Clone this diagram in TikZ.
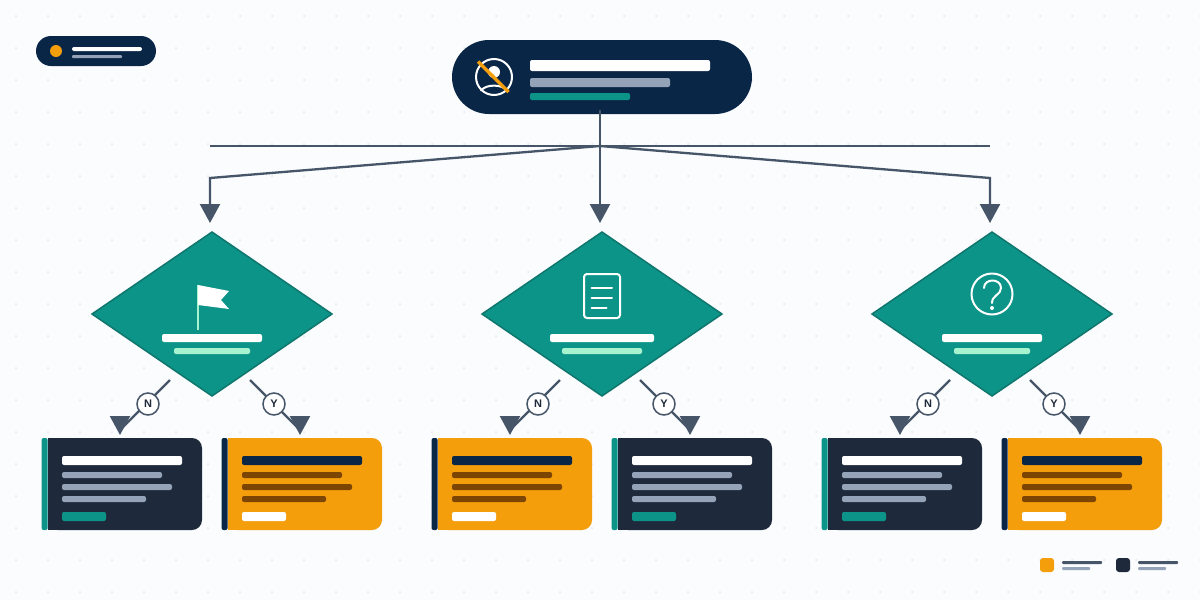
\documentclass[tikz,border=0pt]{standalone}
\usepackage{fontspec}
\setmainfont{Liberation Sans}
\usetikzlibrary{arrows.meta,shapes.geometric}
\definecolor{paper}{HTML}{FAFCFE}
\definecolor{speck}{HTML}{E2E8F0}
\definecolor{navy}{HTML}{0A2647}
\definecolor{slate}{HTML}{1E293B}
\definecolor{steel}{HTML}{475569}
\definecolor{mist}{HTML}{94A3B8}
\definecolor{teal}{HTML}{0D9488}
\definecolor{tealdark}{HTML}{0F766E}
\definecolor{mint}{HTML}{A7F3D0}
\definecolor{amber}{HTML}{F59E0B}
\definecolor{umber}{HTML}{7C4503}
\tikzset{
    bar/.style = {rectangle, rounded corners=2pt, inner sep=0pt, outer sep=0pt, anchor=west, minimum height=6pt},
    titlebar/.style = {bar, minimum width=120pt, minimum height=9pt},
    notebar/.style = {bar, minimum width=44pt, minimum height=9pt},
    pillbox/.style = {rectangle, rounded corners=37pt, inner sep=0pt, fill=navy, minimum width=300pt, minimum height=74pt},
    tagbox/.style = {rectangle, rounded corners=15pt, inner sep=0pt, fill=navy, minimum width=120pt, minimum height=30pt},
    choice/.style = {diamond, draw=tealdark, line width=1.5pt, fill=teal, inner sep=0pt, outer sep=0pt, minimum width=240pt, minimum height=164pt},
    cardbody/.style = {rectangle, rounded corners=10pt, inner sep=0pt, minimum width=154pt, minimum height=92pt},
    cardfill/.style = {rectangle, inner sep=0pt, minimum width=20pt, minimum height=92pt, anchor=west},
    accent/.style = {rectangle, rounded corners=2pt, inner sep=0pt, minimum width=6pt, minimum height=92pt, anchor=east},
    swatch/.style = {rectangle, rounded corners=3pt, inner sep=0pt, minimum width=14pt, minimum height=14pt},
    badge/.style = {circle, draw=steel, line width=1.5pt, fill=white, text=slate, inner sep=0pt, minimum size=22pt, font=\fontsize{11}{11}\selectfont\bfseries},
    link/.style = {draw=steel, line width=2.3pt},
    arrow/.style = {link, -{Triangle[length=19pt,width=20pt]}},
    icon/.style = {draw=white, line width=2pt, line cap=round, line join=round}
}
\begin{document}
\begin{tikzpicture}[x=1pt,y=-1pt,node distance=180pt]
\useasboundingbox (0,0) rectangle (1200,600);
\fill [paper] (0,0) rectangle (1200,600);
% faint dots
\foreach \i in {0,...,37} {
    \foreach \j in {0,...,18} {
        \fill [speck] (16+32*\i,16+32*\j) circle (1pt);
    }
}

% tag and root
\node (tag) [tagbox] at (96,51) {};
\node (tagdot) [circle, fill=amber, inner sep=0pt, minimum size=12pt] at (56,51) {};
\node (tagline) [bar, fill=white, minimum width=70pt, minimum height=4pt] at (72,49) {};
\node (tagsub) [bar, fill=mist, minimum width=50pt, minimum height=3pt, rounded corners=1pt] at (72,56.5) {};

\node (root) [pillbox] at (602,77) {};
\node (roottitle) [bar, fill=white, minimum width=180pt, minimum height=11pt] at (530,65.5) {};
\node (rootsub) [bar, fill=mist, minimum width=140pt, minimum height=9pt] at (530,82.5) {};
\node (rootnote) [bar, fill=teal, minimum width=100pt, minimum height=7pt] at (530,96.5) {};
\draw [icon] (494,77) circle (18pt);
\fill [white] (494,72) circle (6pt);
\draw [icon] (481,90.5) .. controls (486,84) and (502,84) .. (507,90.5);
\draw [draw=amber, line width=3.5pt] (478,61.5) -- (508.5,92);

% decisions
\node (flag) [choice] at (212,314) {};
\node (doc) [choice, right of=flag, node distance=390pt] {};
\node (query) [choice, right of=doc, node distance=390pt] {};

\draw [draw=mint, line width=2pt] (198,285) -- (198,330);
\fill [white] (198,285) -- (229,291) -- (221,300) -- (229,309) -- (198,305) -- cycle;
\node (flagtitle) [bar, fill=white, minimum width=100pt, minimum height=8pt] at (162,338) {};
\node (flagsub) [bar, fill=mint, minimum width=76pt] at (174,351) {};

\draw [icon, rounded corners=3pt] (584,274) rectangle (620,318);
\draw [icon] (591.5,288) -- (612,288);
\draw [icon] (591.5,298) -- (612,298);
\draw [icon] (591.5,308) -- (606.5,308);
\node (doctitle) [bar, fill=white, minimum width=104pt, minimum height=8pt] at (550,338) {};
\node (docsub) [bar, fill=mint, minimum width=80pt] at (562,351) {};

\draw [icon] (992,294) circle (20.5pt);
\draw [icon] (984,288) .. controls (984,278) and (1001,278) .. (1001,288) .. controls (1001,295) and (992,295) .. (992,303);
\fill [white] (992,308) circle (2pt);
\node (querytitle) [bar, fill=white, minimum width=100pt, minimum height=8pt] at (942,338) {};
\node (querysub) [bar, fill=mint, minimum width=76pt] at (954,351) {};

% cards
\node (cardA) [cardbody, fill=slate] at (125,484) {};
\node (cardAfill) [cardfill, fill=slate] at (cardA.west) {};
\node (cardAedge) [accent, fill=teal] at (cardA.west) {};
\node (cardAtitle) [titlebar, fill=white] at (62,460.5) {};
\node (cardAone) [bar, fill=mist, minimum width=100pt] at (62,475) {};
\node (cardAtwo) [bar, fill=mist, minimum width=110pt] at (62,487) {};
\node (cardAthree) [bar, fill=mist, minimum width=84pt] at (62,499) {};
\node (cardAnote) [notebar, fill=teal] at (62,516.5) {};

\node (cardB) [cardbody, fill=amber, right of=cardA] {};
\node (cardBfill) [cardfill, fill=amber] at (cardB.west) {};
\node (cardBedge) [accent, fill=navy] at (cardB.west) {};
\node (cardBtitle) [titlebar, fill=navy] at (242,460.5) {};
\node (cardBone) [bar, fill=umber, minimum width=100pt] at (242,475) {};
\node (cardBtwo) [bar, fill=umber, minimum width=110pt] at (242,487) {};
\node (cardBthree) [bar, fill=umber, minimum width=84pt] at (242,499) {};
\node (cardBnote) [notebar, fill=white] at (242,516.5) {};

\node (cardC) [cardbody, fill=amber, right of=cardB, node distance=210pt] {};
\node (cardCfill) [cardfill, fill=amber] at (cardC.west) {};
\node (cardCedge) [accent, fill=navy] at (cardC.west) {};
\node (cardCtitle) [titlebar, fill=navy] at (452,460.5) {};
\node (cardCone) [bar, fill=umber, minimum width=100pt] at (452,475) {};
\node (cardCtwo) [bar, fill=umber, minimum width=110pt] at (452,487) {};
\node (cardCthree) [bar, fill=umber, minimum width=74pt] at (452,499) {};
\node (cardCnote) [notebar, fill=white] at (452,516.5) {};

\node (cardD) [cardbody, fill=slate, right of=cardC] {};
\node (cardDfill) [cardfill, fill=slate] at (cardD.west) {};
\node (cardDedge) [accent, fill=teal] at (cardD.west) {};
\node (cardDtitle) [titlebar, fill=white] at (632,460.5) {};
\node (cardDone) [bar, fill=mist, minimum width=100pt] at (632,475) {};
\node (cardDtwo) [bar, fill=mist, minimum width=110pt] at (632,487) {};
\node (cardDthree) [bar, fill=mist, minimum width=84pt] at (632,499) {};
\node (cardDnote) [notebar, fill=teal] at (632,516.5) {};

\node (cardE) [cardbody, fill=slate, right of=cardD, node distance=210pt] {};
\node (cardEfill) [cardfill, fill=slate] at (cardE.west) {};
\node (cardEedge) [accent, fill=teal] at (cardE.west) {};
\node (cardEtitle) [titlebar, fill=white] at (842,460.5) {};
\node (cardEone) [bar, fill=mist, minimum width=100pt] at (842,475) {};
\node (cardEtwo) [bar, fill=mist, minimum width=110pt] at (842,487) {};
\node (cardEthree) [bar, fill=mist, minimum width=84pt] at (842,499) {};
\node (cardEnote) [notebar, fill=teal] at (842,516.5) {};

\node (cardF) [cardbody, fill=amber, right of=cardE] {};
\node (cardFfill) [cardfill, fill=amber] at (cardF.west) {};
\node (cardFedge) [accent, fill=navy] at (cardF.west) {};
\node (cardFtitle) [titlebar, fill=navy] at (1022,460.5) {};
\node (cardFone) [bar, fill=umber, minimum width=100pt] at (1022,475) {};
\node (cardFtwo) [bar, fill=umber, minimum width=110pt] at (1022,487) {};
\node (cardFthree) [bar, fill=umber, minimum width=74pt] at (1022,499) {};
\node (cardFnote) [notebar, fill=white] at (1022,516.5) {};

% key
\node (keyamber) [swatch, fill=amber] at (1047,565) {};
\node (keyamberone) [bar, fill=steel, minimum width=40pt, minimum height=3pt, rounded corners=1pt] at (1062,562.5) {};
\node (keyambertwo) [bar, fill=mist, minimum width=28pt, minimum height=3pt, rounded corners=1pt] at (1062,568.5) {};
\node (keyslate) [swatch, fill=slate] at (1123,565) {};
\node (keyslateone) [bar, fill=steel, minimum width=40pt, minimum height=3pt, rounded corners=1pt] at (1138,562.5) {};
\node (keyslatetwo) [bar, fill=mist, minimum width=28pt, minimum height=3pt, rounded corners=1pt] at (1138,568.5) {};

% connectors
\coordinate (rootout) at (600,110);
\coordinate (hub) at (600,146);
\coordinate (busleft) at (210,146);
\coordinate (busright) at (990,146);
\coordinate (flagbend) at (210,178);
\coordinate (flagin) at (210,223);
\coordinate (docin) at (600,223);
\coordinate (querybend) at (990,178);
\coordinate (queryin) at (990,223);
\draw [link] (rootout) -- (hub);
\draw [link] (busleft) -- (busright);
\draw [arrow] (hub) -- (flagbend) -- (flagin);
\draw [arrow] (hub) -- (docin);
\draw [arrow] (hub) -- (querybend) -- (queryin);

\coordinate (flagno) at (170,380);
\coordinate (flagyes) at (250,380);
\coordinate (docno) at (560,380);
\coordinate (docyes) at (640,380);
\coordinate (queryno) at (950,380);
\coordinate (queryyes) at (1030,380);
\coordinate (intoA) at (120,430);
\coordinate (intoB) at (300,430);
\coordinate (intoC) at (510,430);
\coordinate (intoD) at (690,430);
\coordinate (intoE) at (900,430);
\coordinate (intoF) at (1080,430);
\draw [arrow] (flagno) -- (intoA) -- ++(0,5);
\draw [arrow] (flagyes) -- (intoB) -- ++(0,5);
\draw [arrow] (docno) -- (intoC) -- ++(0,5);
\draw [arrow] (docyes) -- (intoD) -- ++(0,5);
\draw [arrow] (queryno) -- (intoE) -- ++(0,5);
\draw [arrow] (queryyes) -- (intoF) -- ++(0,5);

\node (flagN) [badge] at (148,404) {N};
\node (flagY) [badge] at (274,404) {Y};
\node (docN) [badge] at (538,404) {N};
\node (docY) [badge] at (664,404) {Y};
\node (queryN) [badge] at (928,404) {N};
\node (queryY) [badge] at (1054,404) {Y};
\end{tikzpicture}
\end{document}
